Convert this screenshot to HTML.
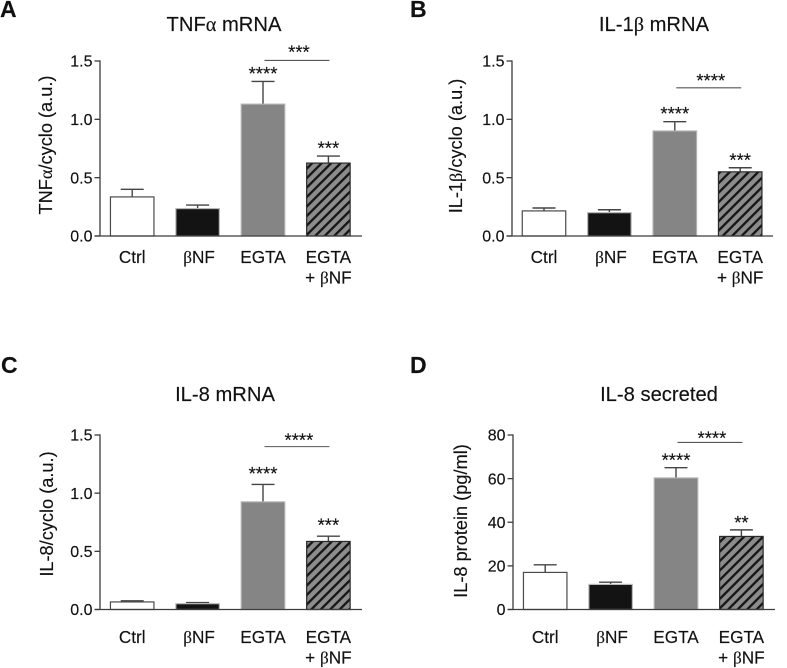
<!DOCTYPE html>
<html lang="en">
<head>
<meta charset="utf-8">
<title>Cytokine expression panels</title>
<style>
html,body{margin:0;padding:0;background:#fff;width:787px;height:668px;overflow:hidden}
svg{display:block;filter:blur(0.3px)}
text{font-family:"Liberation Sans",sans-serif;fill:#111;stroke:#111;stroke-width:0.15px}
.greek{font-family:"Liberation Serif",serif}
</style>
</head>
<body>
<svg id="figure" xmlns="http://www.w3.org/2000/svg" width="787" height="668" viewBox="0 0 787 668">
<defs>
<pattern id="hatch" patternUnits="userSpaceOnUse" width="6.7" height="6.7" patternTransform="rotate(45)">
<rect width="6.7" height="6.7" fill="#8c8c8c"></rect>
<rect width="2.3" height="6.7" fill="#151515"></rect>
</pattern>
</defs>
</svg>
<script>
const categories = ['Ctrl', 'βNF', 'EGTA', 'EGTA|+ βNF'];

const tnfMeans = [0.335, 0.235, 1.13, 0.625];
const tnfErrors = [0.065, 0.03, 0.195, 0.06];
const tnfStars = ['', '', '****', '***'];
const tnfBracket = ['***', 1.505];

const il1Means = [0.215, 0.2, 0.9, 0.55];
const il1Errors = [0.025, 0.025, 0.08, 0.035];
const il1Stars = ['', '', '****', '***'];
const il1Bracket = ['****', 1.27];

const il8Means = [0.065, 0.05, 0.925, 0.585];
const il8Errors = [0.01, 0.01, 0.15, 0.045];
const il8Stars = ['', '', '****', '***'];
const il8Bracket = ['****', 1.4];

const secretedMeans = [17, 11.5, 60.3, 33.5];
const secretedErrors = [3.5, 1, 4.7, 3];
const secretedStars = ['', '', '****', '**'];
const secretedBracket = ['****', 76.6];

const ratioTicks = ['0.0', '0.5', '1.0', '1.5'];
const proteinTicks = ['0', '20', '40', '60', '80'];

const panels = [
  {id:'a', letter:'A', title:'TNFα mRNA', yTitle:'TNFα/cyclo (a.u.)', means:tnfMeans, errors:tnfErrors, stars:tnfStars, bracket:tnfBracket, ticks:ratioTicks,
   axisX:100, top:61, bottom:236, right:362, first:132.2, letterX:0, letterY:17, titleX:224, titleY:31, yTitleX:52, yTitleY:145, labelY:263, bracketStarDy:-2, starDy:-2},
  {id:'b', letter:'B', title:'IL-1β mRNA', yTitle:'IL-1β/cyclo (a.u.)', means:il1Means, errors:il1Errors, stars:il1Stars, bracket:il1Bracket, ticks:ratioTicks,
   axisX:512, top:61, bottom:236, right:773, first:544, letterX:410, letterY:17, titleX:654, titleY:31, yTitleX:462, yTitleY:146, labelY:263, bracketStarDy:-1, starDy:-2},
  {id:'c', letter:'C', title:'IL-8 mRNA', yTitle:'IL-8/cyclo (a.u.)', means:il8Means, errors:il8Errors, stars:il8Stars, bracket:il8Bracket, ticks:ratioTicks,
   axisX:100, top:435, bottom:609.5, right:362, first:132.2, letterX:1, letterY:373, titleX:225, titleY:401, yTitleX:53, yTitleY:514, labelY:643, bracketStarDy:0, starDy:-5},
  {id:'d', letter:'D', title:'IL-8 secreted', yTitle:'IL-8 protein (pg/ml)', means:secretedMeans, errors:secretedErrors, stars:secretedStars, bracket:secretedBracket, ticks:proteinTicks,
   axisX:513, top:435, bottom:609.5, right:775, first:545.2, letterX:410, letterY:373, titleX:659, titleY:401, yTitleX:467, yTitleY:521, labelY:643, bracketStarDy:2, starDy:-1.5}
];

const NS = 'http://www.w3.org/2000/svg';
const figure = document.getElementById('figure');
const BAR_STEP = 65.4;
const BAR_WIDTH = 43.5;
const AXIS_COLOR = '#3c3c3c';

function make(parent, tag, props) {
  const el = document.createElementNS(NS, tag);
  for (const k in props) el.setAttribute(k, props[k]);
  parent.appendChild(el);
  return el;
}

function addRich(el, str) {
  str.split(/([αβ])/).forEach(function (part) {
    if (!part) return;
    if (part === 'α' || part === 'β') {
      const t = document.createElementNS(NS, 'tspan');
      t.setAttribute('class', 'greek');
      t.textContent = part;
      el.appendChild(t);
    } else {
      el.appendChild(document.createTextNode(part));
    }
  });
}

function drawPanel(p) {
  const maxVal = parseFloat(p.ticks[p.ticks.length - 1]);
  const yScale = function (v) { return p.bottom - (v / maxVal) * (p.bottom - p.top); };
  const xScale = function (i) { return p.first + i * BAR_STEP; };

  const g = make(figure, 'g', {});
  
  

  const letter = make(g, 'text', {x:p.letterX, y:p.letterY, 'font-size':23, 'font-weight':'bold', fill:'#111'});
  letter.style.fontWeight = 'bold';
  letter.textContent = p.letter;
  
  

  const title = make(g, 'text', {x:p.titleX, y:p.titleY, 'font-size':20.2, 'text-anchor':'middle'});
  addRich(title, p.title);
  
  

  const yTitle = make(g, 'text', {x:0, y:0, 'font-size':18.2, 'text-anchor':'middle',
    transform:'translate(' + p.yTitleX + ' ' + p.yTitleY + ') rotate(-90)'});
  addRich(yTitle, p.yTitle);
  
  

  p.means.forEach(function (m, i) {
    const x = xScale(i) - BAR_WIDTH / 2;
    const y = yScale(m);
    const h = p.bottom - y;
    const errTop = yScale(m + p.errors[i]);
    const cx = xScale(i);

    const errLine = make(g, 'line', {x1:cx, x2:cx, y1:y, y2:errTop, stroke:'#444', 'stroke-width':1.4});
    
    
    const errCap = make(g, 'line', {x1:cx - 11.5, x2:cx + 11.5, y1:errTop, y2:errTop, stroke:'#444', 'stroke-width':1.4});
    
    

    let fill = '#fff', stroke = '#4a4a4a';
    if (i === 1) { fill = '#131313'; stroke = '#b8b8b8'; }
    if (i === 2) { fill = '#858585'; stroke = '#b0b0b0'; }
    if (i === 3) { fill = 'url(#hatch)'; stroke = '#2a2a2a'; }
    const bar = make(g, 'rect', {x:x, y:y, width:BAR_WIDTH, height:h, fill:fill, stroke:stroke, 'stroke-width':1.2});
    
    

    if (p.stars[i]) {
      const st = make(g, 'text', {x:cx, y:errTop + 0.5 + p.starDy, 'font-size':18.5, 'text-anchor':'middle'});
      st.textContent = p.stars[i];
      
      
    }

    const lines = categories[i].split('|');
    lines.forEach(function (line, k) {
      const lab = make(g, 'text', {x:cx + (k === 0 && i === 1 ? 1.5 : 0), y:p.labelY + k * 20.5, 'font-size':17.2, 'text-anchor':'middle'});
      addRich(lab, line);
      
      
    });
  });

  const yAxis = make(g, 'line', {x1:p.axisX, x2:p.axisX, y1:p.top - 0.6, y2:p.bottom, stroke:AXIS_COLOR, 'stroke-width':1.3});
  
  
  const xAxis = make(g, 'line', {x1:p.axisX - 5.5, x2:p.right, y1:p.bottom, y2:p.bottom, stroke:AXIS_COLOR, 'stroke-width':1.3});
  
  

  p.ticks.forEach(function (t) {
    const y = yScale(parseFloat(t));
    const tick = make(g, 'line', {x1:p.axisX - 5.5, x2:p.axisX, y1:y, y2:y, stroke:AXIS_COLOR, 'stroke-width':1.3});
    
    
    const lab = make(g, 'text', {x:p.axisX - 7.5, y:y + 5.7, 'font-size':16, 'text-anchor':'end'});
    lab.textContent = t;
    
    
  });

  const by = yScale(p.bracket[1]);
  const bx1 = xScale(2) + 1.5;
  const bx2 = xScale(3) + 1;
  const bLine = make(g, 'line', {x1:bx1, x2:bx2, y1:by, y2:by, stroke:'#555', 'stroke-width':1.1});
  
  
  const bStars = make(g, 'text', {x:(bx1 + bx2) / 2 + 2, y:by + p.bracketStarDy, 'font-size':18.5, 'text-anchor':'middle'});
  bStars.textContent = p.bracket[0];
  
  
}

panels.forEach(drawPanel);
</script>
</body>
</html>
